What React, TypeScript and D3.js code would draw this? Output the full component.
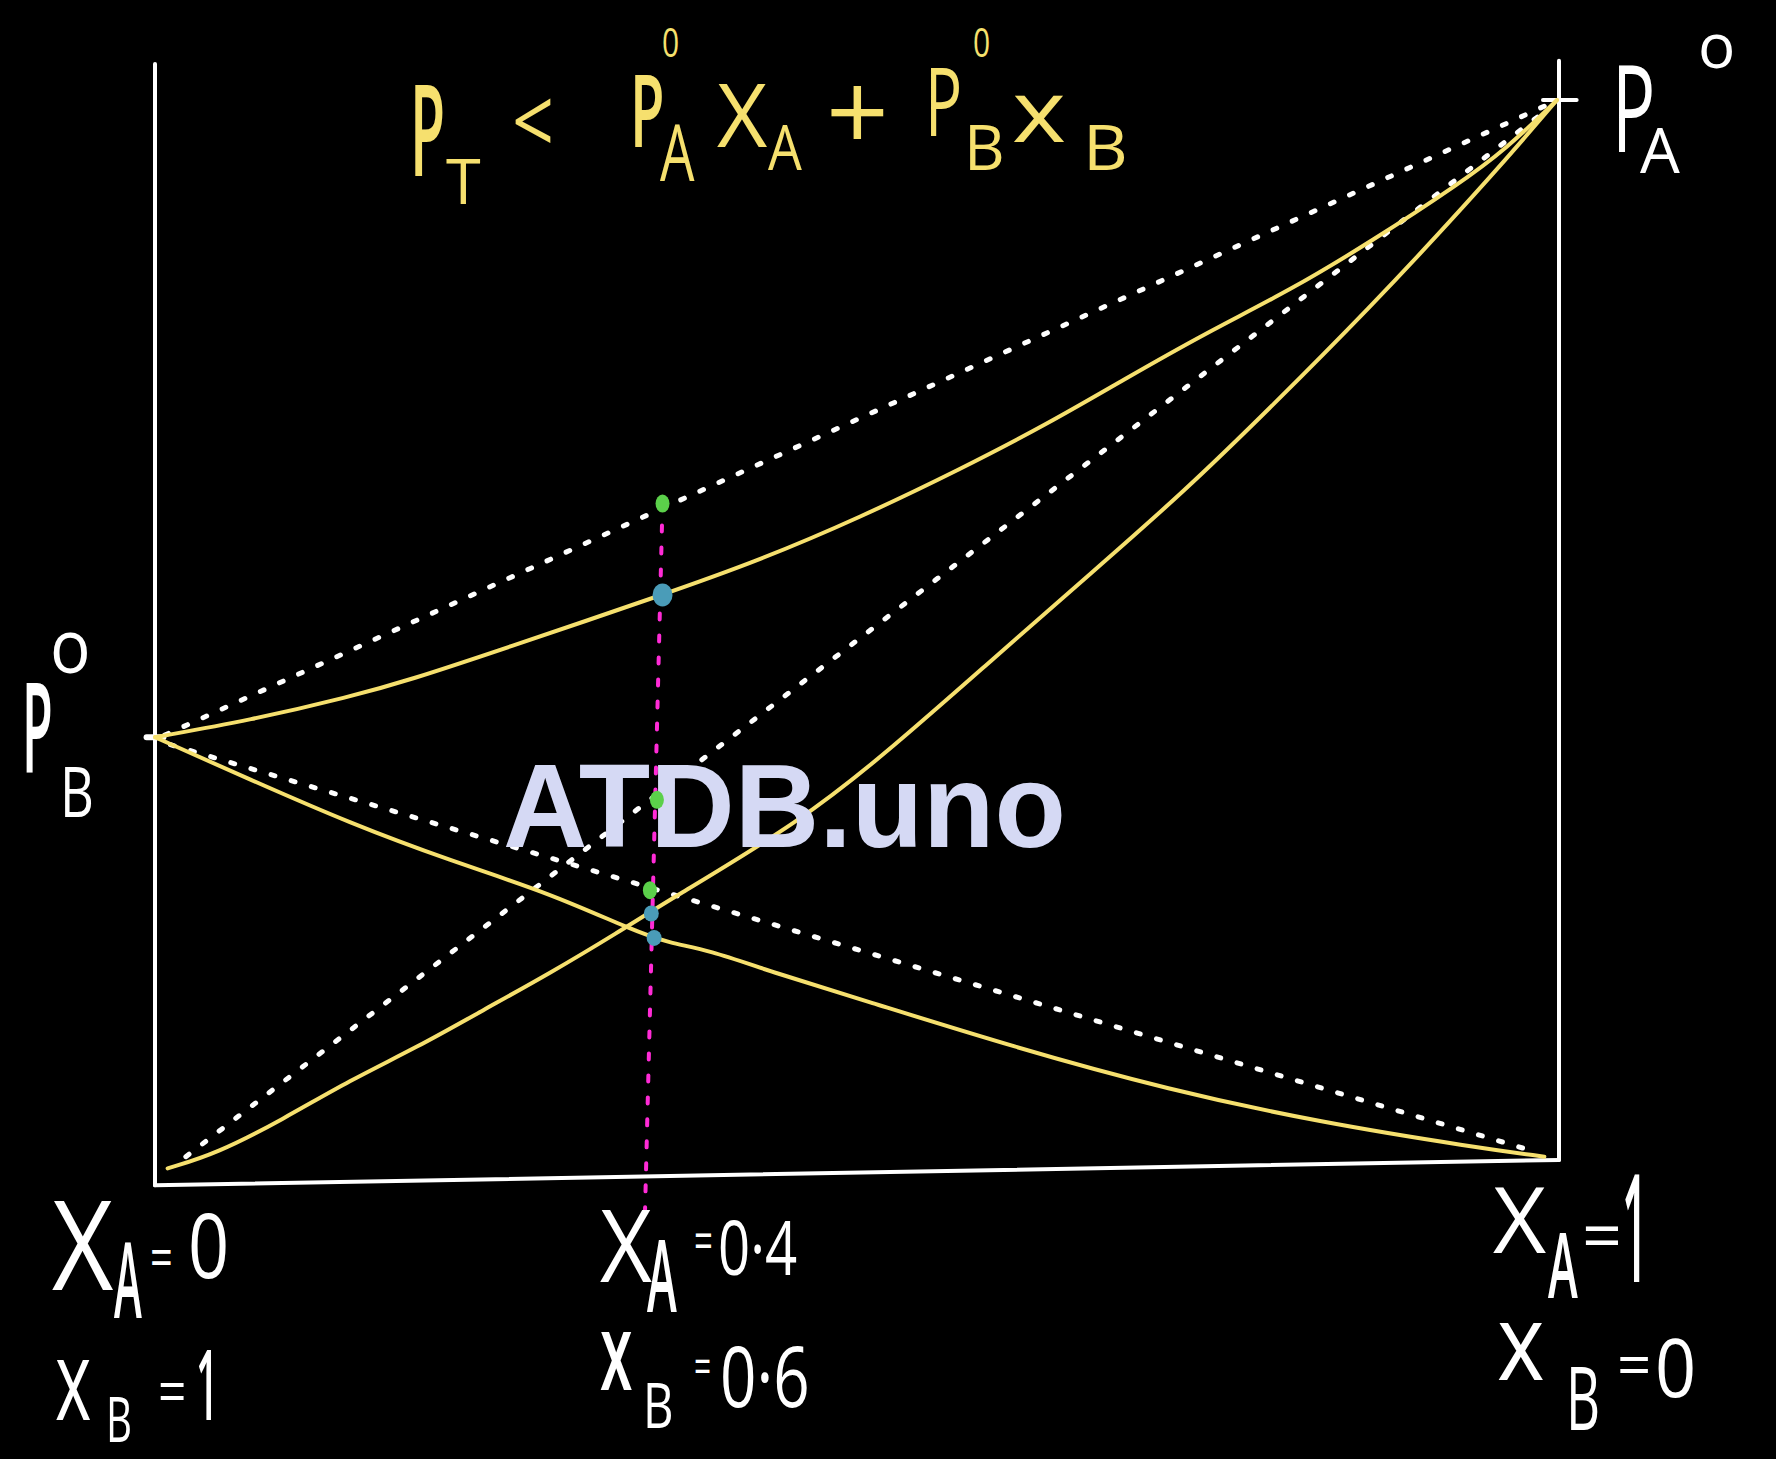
import React from 'react';
import * as d3 from 'd3';

// vapour pressure vs mole fraction of A (negative deviation sketch)
// x: mole fraction of A, p: pressure with P_A° = 100
const pA0 = 100;
const pB0 = 40;

// P_T (real total pressure, sags below the ideal line)
const totalX = [0, 0.068, 0.139, 0.182, 0.246, 0.362, 0.432, 0.503, 0.574, 0.638, 0.69, 0.75, 0.81, 0.869, 0.929, 0.964, 1];
const totalP = [40, 41.6, 43.8, 45.4, 48.2, 53.4, 56.7, 60.7, 65.2, 69.6, 73.6, 78.1, 82.1, 86.8, 92.0, 95.4, 100];

// partial pressure of A
const partAX = [0.009, 0.044, 0.091, 0.139, 0.187, 0.234, 0.282, 0.33, 0.367, 0.46, 0.526, 0.598, 0.669, 0.733, 0.797, 0.869, 0.917, 0.952, 0.976, 1];
const partAP = [-0.6, 0.8, 4.0, 7.7, 10.8, 14.3, 17.8, 21.6, 24.7, 32.0, 39.0, 47.4, 55.6, 63.0, 71.2, 80.8, 87.6, 92.7, 96.3, 100];

// partial pressure of B
const partBX = [0, 0.068, 0.139, 0.21, 0.282, 0.341, 0.367, 0.394, 0.442, 0.504, 0.613, 0.723, 0.832, 0.941, 0.991];
const partBP = [40, 36.0, 31.9, 28.4, 25.3, 21.8, 20.6, 20.0, 17.8, 15.3, 10.8, 6.8, 3.7, 1.4, 0.5];

// ideal (Raoult) straight lines, dotted: [x0, p0, x1, p1]
const idealTotal = [0.007, 40.2, 0.994, 99.6];
const idealA = [0.022, 0.5, 0.991, 98.9];
const idealB = [0.011, 39.3, 0.981, 1.1];

// the x_A = 0.4 guide (drawn slightly slanted)
const guideX = [0.362, 0.3495];
const guideP = [62.0, -4.7];

// points marked along the guide
const markX = [0.362, 0.362, 0.358, 0.353, 0.354, 0.356];
const markP = [62.0, 53.4, 34.1, 25.6, 23.4, 21.1];
const markKind = ['green', 'blue', 'green', 'green', 'blue', 'blue'];

// frame of the sketch
const frameTop = 103.4;
const frameBottomLeft = -2.2;
const frameBottomRight = 0.2;

const tickXA = ['0', '0·4', '1'];
const tickXB = ['1', '0·6', '0'];

const YELLOW = '#f6e06e';
const WHITE = '#ffffff';
const MAGENTA = '#ff2bd6';
const GREEN = '#5bd04a';
const BLUE = '#4a9cb8';

type Piece = { t: string; x: number; y: number; s: number; sx?: number };

// handwriting stand-in: squeezed glyphs get a heavier weight so strokes stay thick
const Hand = ({ pieces, fill }: { pieces: Piece[]; fill: string }) => (
  <g fill={fill} fontFamily="'Open Sans', 'DejaVu Sans', sans-serif">
    {pieces.map((p, i) => {
      const sx = p.sx ?? 1;
      return (
        <text
          key={i}
          transform={`translate(${p.x},${p.y}) scale(${sx},1)`}
          fontSize={p.s}
          fontWeight={sx < 0.6 ? 600 : 400}
        >
          {p.t}
        </text>
      );
    })}
  </g>
);

export default function App() {
  const width = 1776;
  const height = 1459;

  const x = d3.scaleLinear().domain([0, 1]).range([155, 1557]);
  const y = d3.scaleLinear().domain([0, 100]).range([1162, 100]);

  const curve = d3
    .line<[number, number]>()
    .x(d => x(d[0]))
    .y(d => y(d[1]))
    .curve(d3.curveBasis);

  const zip = (xs: number[], ps: number[]) => xs.map((v, i) => [v, ps[i]] as [number, number]);

  const straight = (s: number[]) => ({ x1: x(s[0]), y1: y(s[1]), x2: x(s[2]), y2: y(s[3]) });

  const title: Piece[] = [
    { t: 'P', x: 410, y: 176, s: 127, sx: 0.45 },
    { t: 'T', x: 446, y: 204, s: 63 },
    { t: '<', x: 512, y: 154, s: 92, sx: 0.8 },
    { t: 'P', x: 630, y: 147, s: 102, sx: 0.55 },
    { t: '0', x: 662, y: 57, s: 40, sx: 0.75 },
    { t: 'A', x: 660, y: 181, s: 78, sx: 0.7 },
    { t: 'X', x: 717, y: 147, s: 87 },
    { t: 'A', x: 768, y: 170, s: 63, sx: 0.85 },
    { t: '+', x: 826, y: 151, s: 110 },
    { t: 'P', x: 925, y: 136, s: 95, sx: 0.65 },
    { t: '0', x: 973, y: 57, s: 40, sx: 0.75 },
    { t: 'B', x: 964, y: 170, s: 63 },
    { t: 'x', x: 1012, y: 142, s: 86, sx: 1.2 },
    { t: 'B', x: 1083, y: 170, s: 63, sx: 1.1 },
  ];

  const yLabels: Piece[] = [
    { t: 'P', x: 1612, y: y(pA0) + 52, s: 120, sx: 0.6 },
    { t: 'A', x: 1640, y: y(pA0) + 73, s: 63 },
    { t: 'o', x: 1698, y: y(pA0) - 32, s: 62 },
    { t: 'P', x: 22, y: y(pB0) + 36, s: 125, sx: 0.4 },
    { t: 'o', x: 50, y: y(pB0) - 64, s: 75, sx: 0.9 },
    { t: 'B', x: 60, y: y(pB0) + 80, s: 70, sx: 0.75 },
  ];

  const xLabels: Piece[] = [
    // x_A = 0 / x_B = 1
    { t: 'X', x: 52, y: 1290, s: 125, sx: 0.85 },
    { t: 'A', x: 114, y: 1318, s: 105, sx: 0.4 },
    { t: '=', x: 150, y: 1277, s: 57, sx: 0.7 },
    { t: tickXA[0], x: 188, y: 1278, s: 90, sx: 0.8 },
    { t: 'x', x: 55, y: 1420, s: 112, sx: 0.62 },
    { t: 'B', x: 106, y: 1442, s: 62, sx: 0.65 },
    { t: '=', x: 158, y: 1414, s: 62, sx: 0.8 },
    { t: tickXB[0], x: 196, y: 1420, s: 98, sx: 0.4 },
    // x_A = 0.4 / x_B = 0.6
    { t: 'X', x: 600, y: 1282, s: 100, sx: 0.9 },
    { t: 'A', x: 647, y: 1312, s: 100, sx: 0.45 },
    { t: '=', x: 694, y: 1260, s: 55, sx: 0.6 },
    { t: tickXA[1], x: 718, y: 1275, s: 75, sx: 0.75 },
    { t: 'x', x: 600, y: 1390, s: 107, sx: 0.55 },
    { t: 'B', x: 643, y: 1428, s: 63, sx: 0.75 },
    { t: '=', x: 694, y: 1384, s: 50, sx: 0.6 },
    { t: tickXB[1], x: 720, y: 1407, s: 85, sx: 0.75 },
    // x_A = 1 / x_B = 0
    { t: 'X', x: 1493, y: 1253, s: 92 },
    { t: 'A', x: 1548, y: 1298, s: 90, sx: 0.5 },
    { t: '=', x: 1582, y: 1260, s: 70 },
    { t: tickXA[2], x: 1622, y: 1282, s: 150, sx: 0.3 },
    { t: 'x', x: 1497, y: 1380, s: 107, sx: 0.85 },
    { t: 'B', x: 1566, y: 1430, s: 88, sx: 0.6 },
    { t: '=', x: 1617, y: 1386, s: 60 },
    { t: tickXB[2], x: 1655, y: 1397, s: 80, sx: 0.9 },
  ];

  const dotted = { stroke: WHITE, strokeWidth: 5, strokeDasharray: '4 17', strokeLinecap: 'round' as const };

  return (
    <div style={{ background: '#000', width, height }}>
      <style>{`body{margin:0;background:#000}`}</style>
      <svg width={width} height={height} viewBox={`0 0 ${width} ${height}`} style={{ display: 'block' }}>
        <rect width={width} height={height} fill="#000" />

        {/* frame */}
        <g stroke={WHITE} strokeWidth={4} strokeLinecap="round" fill="none">
          <line x1={x(0)} x2={x(0)} y1={y(frameTop)} y2={y(frameBottomLeft)} />
          <line x1={x(1) + 2} x2={x(1) + 2} y1={y(frameTop + 0.3)} y2={y(frameBottomRight)} />
          <line x1={x(0)} x2={x(1) + 2} y1={y(frameBottomLeft)} y2={y(frameBottomRight)} />
          {/* P° ticks */}
          <line x1={x(0.99)} x2={x(1.014)} y1={y(pA0)} y2={y(pA0)} />
          <line x1={x(-0.006)} x2={x(0.006)} y1={y(pB0)} y2={y(pB0)} strokeWidth={6} />
        </g>

        {/* ideal lines */}
        <line {...straight(idealTotal)} {...dotted} />
        <line {...straight(idealA)} {...dotted} />
        <line {...straight(idealB)} {...dotted} />

        {/* guide at x_A = 0.4 */}
        <line
          x1={x(guideX[0])}
          y1={y(guideP[0])}
          x2={x(guideX[1])}
          y2={y(guideP[1])}
          stroke={MAGENTA}
          strokeWidth={4}
          strokeDasharray="6 16"
          strokeLinecap="round"
        />

        {/* real curves */}
        <g fill="none" stroke={YELLOW} strokeWidth={4} strokeLinecap="round" strokeLinejoin="round">
          <path d={curve(zip(totalX, totalP)) ?? ''} />
          <path d={curve(zip(partAX, partAP)) ?? ''} />
          <path d={curve(zip(partBX, partBP)) ?? ''} />
        </g>

        <Hand pieces={title} fill={YELLOW} />
        <Hand pieces={yLabels} fill={WHITE} />
        <Hand pieces={xLabels} fill={WHITE} />

        <text
          x={503}
          y={847}
          fontFamily="'Liberation Sans', Arial, sans-serif"
          fontWeight={700}
          fontSize={118}
          textLength={563}
          lengthAdjust="spacingAndGlyphs"
          fill="#d5d9f4"
        >
          ATDB.uno
        </text>

        {/* marked points */}
        {markX.map((m, i) => {
          const big = i === 1;
          const green = markKind[i] === 'green';
          return (
            <ellipse
              key={i}
              cx={x(m)}
              cy={y(markP[i])}
              rx={big ? 10 : green ? 7 : 7.5}
              ry={big ? 11.5 : green ? 9 : 8}
              fill={green ? GREEN : BLUE}
            />
          );
        })}
      </svg>
    </div>
  );
}
